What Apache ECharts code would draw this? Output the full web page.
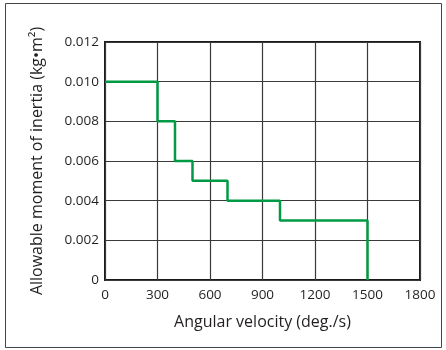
<!DOCTYPE html>
<html>
<head>
<meta charset="utf-8">
<script src="https://cdn.jsdelivr.net/npm/echarts@6/dist/echarts.min.js"></script>
<style>
html, body { margin: 0; padding: 0; background: #fff; }
#main { width: 446px; height: 350px; }
</style>
</head>
<body>
<div id="main"></div>
<script>
// step points: speed (deg./s) and allowable inertia (kg·m²)
var velocity = [0, 300, 400, 500, 700, 1000, 1500];
var inertia = [0.010, 0.008, 0.006, 0.005, 0.004, 0.003, 0];
var xTicks = [0, 300, 600, 900, 1200, 1500, 1800];

var myChart = echarts.init(document.getElementById('main'));
var fontFam = '"Open Sans", "Noto Sans", sans-serif';

var points = [];
for (var i = 0; i < velocity.length; i++) {
	points.push([velocity[i], inertia[i]]);
}

var option = {
	animation: false,
	backgroundColor: '#fff',
	graphic: [{
		type: 'rect',
		shape: { x: 5.5, y: 3.5, width: 436, height: 344 },
		style: { fill: 'none', stroke: '#444', lineWidth: 1 }
	}],
	grid: {
		left: 105,
		right: 26,
		top: 42,
		bottom: 70,
		show: true,
		borderColor: '#1a1a1a',
		borderWidth: 2
	},
	xAxis: {
		type: 'value',
		min: xTicks[0],
		max: xTicks[xTicks.length - 1],
		interval: 300,
		name: 'Angular velocity (deg./s)',
		nameLocation: 'middle',
		nameGap: 34,
		nameTextStyle: { color: '#231f20', fontSize: 16, fontFamily: fontFam },
		axisLine: { show: false },
		axisTick: { show: false },
		axisLabel: {
			color: '#231f20', fontSize: 13.5, fontFamily: fontFam, margin: 8,
			formatter: function(v) { return String(v); }
		},
		splitLine: { show: true, lineStyle: { color: '#3a3a3a', width: 1.2 } }
	},
	yAxis: {
		type: 'value',
		min: 0,
		max: 0.012,
		interval: 0.002,
		name: 'Allowable moment of inertia (kg•m²)',
		nameLocation: 'middle',
		nameRotate: 90,
		nameGap: 60,
		nameTextStyle: { color: '#231f20', fontSize: 16, fontFamily: fontFam },
		axisLine: { show: false },
		axisTick: { show: false },
		axisLabel: {
			color: '#231f20', fontSize: 13.5, fontFamily: fontFam, margin: 6,
			formatter: function(v) { return v === 0 ? '0' : v.toFixed(3); }
		},
		splitLine: { show: true, lineStyle: { color: '#3a3a3a', width: 1.2 } }
	},
	series: [{
		type: 'line',
		step: 'end',
		symbol: 'none',
		lineStyle: { color: '#009a44', width: 2.5 },
		data: points
	}]
};
myChart.setOption(option);
</script>
</body>
</html>
